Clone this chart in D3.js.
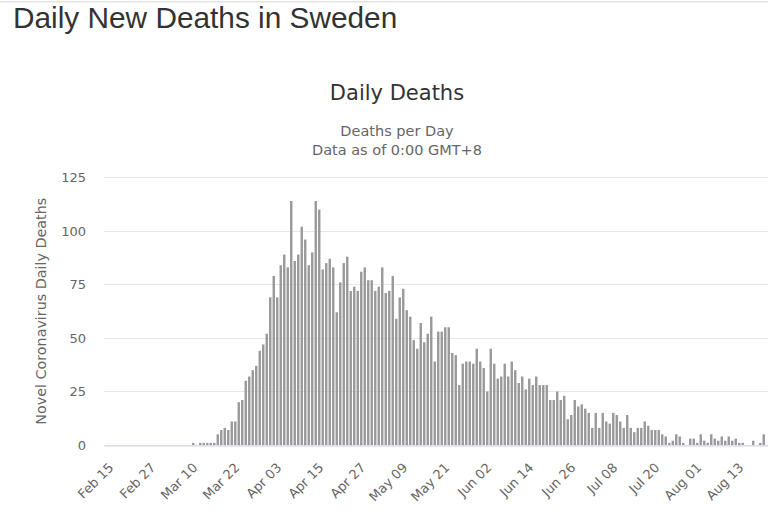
<!DOCTYPE html>
<html>
<head>
<meta charset="utf-8">
<title>Daily New Deaths in Sweden</title>
<script src="https://cdn.jsdelivr.net/npm/d3@7"></script>
<style>
  body { margin: 0; background: #fff; }
  svg { display: block; }
</style>
</head>
<body>
<svg class="canvas" width="768" height="524"></svg>
<script>
"use strict";

// first day of the series, one value per day after it
const startDay = "2020-02-15";
const deaths = [
  0, 0, 0, 0, 0, 0, 0, 0, 0, 0, 0, 0, 0, 0, 0, 0, 0, 0, 0, 0, 0, 0, 0, 0, 0,
  1, 0, 1, 1, 1, 1, 1,
  5, 7, 8, 7, 11, 11, 20, 21,
  30, 32, 35, 37, 44, 47, 52,
  69, 79, 69, 84, 89, 83, 114,
  86, 89, 102, 96, 84, 90, 114, 110,
  82, 85, 87, 83, 62, 76, 85, 88,
  72, 74, 72, 81, 83, 77, 77, 72, 74, 83, 71, 72, 79,
  59, 69, 73, 63, 60, 49, 45, 57, 48, 52, 60,
  39, 53, 53, 55, 55, 43, 42, 28,
  38, 39, 39, 38, 45, 39, 36, 25, 45, 38,
  31, 32, 38, 32, 39, 35, 29, 32, 26, 31, 28, 32, 28, 28, 28,
  21, 21, 25, 21, 23, 12, 14, 21, 18, 19, 17, 15, 8, 15,
  8, 15, 11, 10, 15, 14, 11, 8, 14, 8, 6, 8, 8, 11, 9, 7, 7, 7, 5, 4,
  1, 2, 5, 4, 1, 0, 3, 3, 1, 5, 2, 1, 5, 3, 2, 4, 2, 4, 2, 3, 1, 1, 0, 0, 2, 0, 1, 5
];
const tickDays = [
  "2020-02-15", "2020-02-27", "2020-03-10", "2020-03-22", "2020-04-03", "2020-04-15",
  "2020-04-27", "2020-05-09", "2020-05-21", "2020-06-02", "2020-06-14", "2020-06-26",
  "2020-07-08", "2020-07-20", "2020-08-01", "2020-08-13"
];
const yTicks = [0, 25, 50, 75, 100, 125];

const chartFont = "'DejaVu Sans', Verdana, sans-serif";

function render() {
  const svg = d3.select(".canvas");
  const width = +svg.attr("width");
  const plotLeft = 104;
  const plotTop = 177.5;
  const plotBottom = 445;
  const dayWidth = 3.5;
  const barWidth = 2.4;

  const parse = d3.utcParse("%Y-%m-%d");
  const start = parse(startDay);
  const days = deaths.map((d, i) => d3.utcDay.offset(start, i));
  const halfDay = 12 * 3600 * 1000;

  const x = d3
    .scaleUtc()
    .domain([new Date(+start - halfDay), new Date(+d3.utcDay.offset(start, deaths.length) + halfDay)])
    .range([plotLeft, plotLeft + (deaths.length + 1) * dayWidth]);
  const y = d3.scaleLinear().domain([0, 125]).range([plotBottom, plotTop]);

  // thin rule at the very top of the page
  svg.append("rect")
    .attr("x", 0).attr("y", 1).attr("width", width).attr("height", 1.5)
    .attr("fill", "#e3e3e3");

  svg.append("text")
    .attr("x", 13).attr("y", 27.5)
    .attr("font-family", "'Liberation Sans', Arial, sans-serif")
    .attr("font-size", 29.8)
    .attr("fill", "#333")
    .text("Daily New Deaths in Sweden");

  svg.append("text")
    .attr("x", 397).attr("y", 100)
    .attr("text-anchor", "middle")
    .attr("font-family", chartFont)
    .attr("font-size", 21)
    .attr("fill", "#333")
    .text("Daily Deaths");

  const sub = svg.append("text")
    .attr("text-anchor", "middle")
    .attr("font-family", chartFont)
    .attr("font-size", 14.5)
    .attr("fill", "#666");
  sub.append("tspan").attr("x", 397).attr("y", 136).text("Deaths per Day");
  sub.append("tspan").attr("x", 397).attr("y", 155).text("Data as of 0:00 GMT+8");

  // horizontal grid
  svg.append("g")
    .selectAll("line")
    .data(yTicks)
    .join("line")
    .attr("x1", plotLeft)
    .attr("x2", width)
    .attr("y1", d => Math.floor(y(d)) + 0.5)
    .attr("y2", d => Math.floor(y(d)) + 0.5)
    .attr("stroke", "#e6e6e6");

  // columns
  svg.append("g")
    .selectAll("rect")
    .data(deaths)
    .join("rect")
    .attr("x", (d, i) => x(days[i]) - barWidth / 2)
    .attr("y", d => y(d))
    .attr("width", barWidth)
    .attr("height", d => y(0) - y(d))
    .attr("fill", "#999");

  // y axis labels
  const yAxis = svg.append("g")
    .attr("transform", `translate(${plotLeft},0)`)
    .call(d3.axisLeft(y).tickValues(yTicks).tickSize(0).tickPadding(18));
  yAxis.select(".domain").remove();
  yAxis.selectAll("text")
    .attr("font-family", chartFont)
    .attr("font-size", 13)
    .attr("fill", "#666");

  // x axis with rotated date labels
  const xAxis = svg.append("g")
    .attr("transform", `translate(0,${Math.floor(plotBottom) + 0.5})`)
    .call(
      d3.axisBottom(x)
        .tickValues(tickDays.map(parse))
        .tickFormat(d3.utcFormat("%b %d"))
        .tickSize(0)
    );
  xAxis.select(".domain").attr("stroke", "#ccd6eb");
  xAxis.selectAll("text")
    .attr("x", 0)
    .attr("y", 0)
    .attr("dy", null)
    .attr("transform", "translate(8,23) rotate(-45)")
    .attr("text-anchor", "end")
    .attr("font-family", chartFont)
    .attr("font-size", 13)
    .attr("fill", "#666");

  svg.append("text")
    .attr("transform", `translate(46,${(plotTop + plotBottom) / 2}) rotate(-90)`)
    .attr("text-anchor", "middle")
    .attr("font-family", chartFont)
    .attr("font-size", 14.3)
    .attr("fill", "#666")
    .text("Novel Coronavirus Daily Deaths");
}

window.onload = render;
</script>
</body>
</html>
